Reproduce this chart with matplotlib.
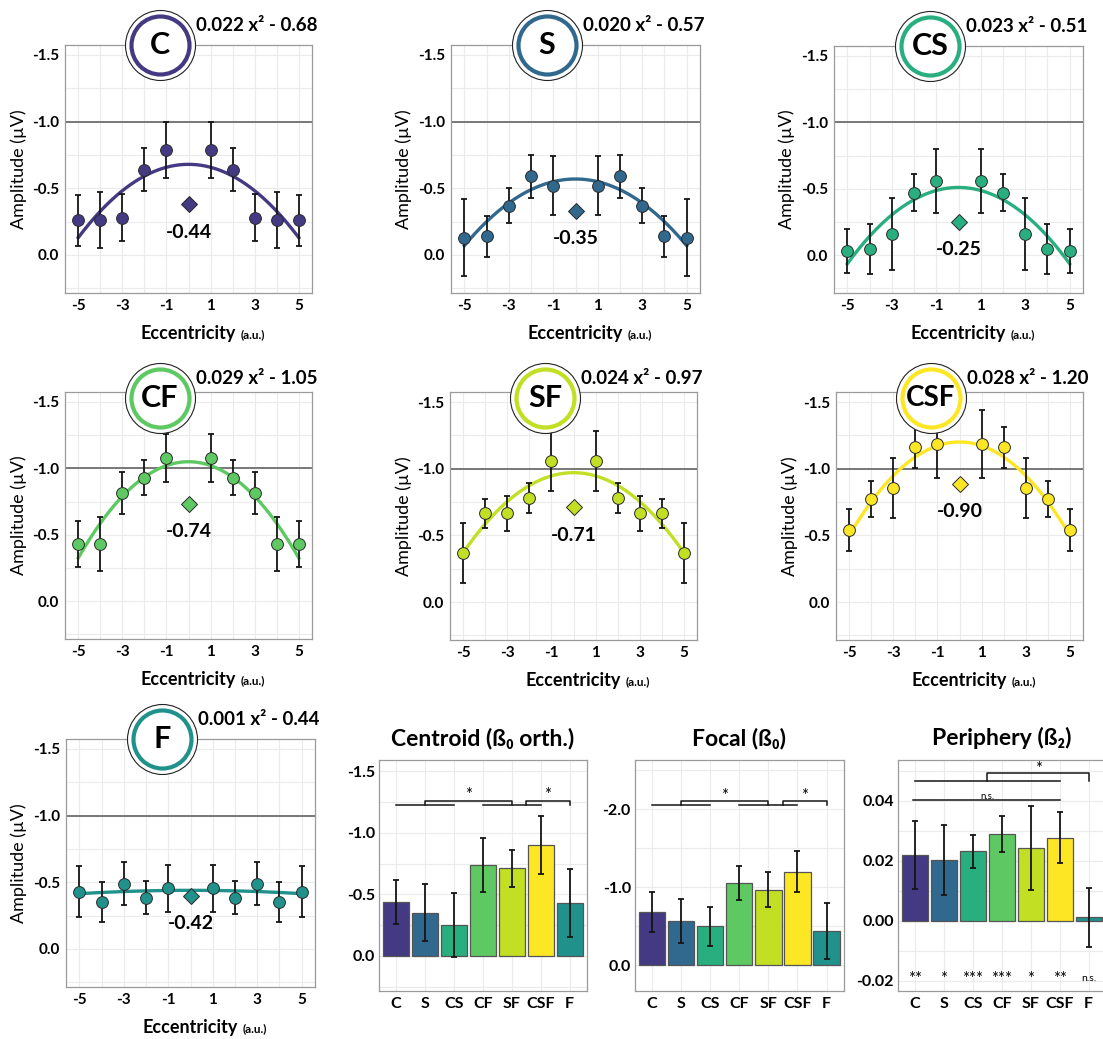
import numpy as np
import matplotlib
matplotlib.use('Agg')
import matplotlib.pyplot as plt
from matplotlib.ticker import FormatStrFormatter

plt.rcParams['font.family'] = ['Lato', 'DejaVu Sans']
plt.rcParams['font.weight'] = 'bold'
plt.rcParams['axes.unicode_minus'] = False

# ---- data ----
conds = ['C', 'S', 'CS', 'CF', 'SF', 'CSF', 'F']
colors = ['#443983', '#31688E', '#29AF7F', '#5EC962', '#C2DF23', '#FDE725', '#21918C']
ecc = [-5, -4, -3, -2, -1, 1, 2, 3, 4, 5]

amp_C = [-0.26, -0.26, -0.28, -0.64, -0.79, -0.79, -0.64, -0.28, -0.26, -0.26]
se_C = [0.19, 0.21, 0.175, 0.16, 0.21, 0.21, 0.16, 0.175, 0.21, 0.19]
amp_S = [-0.13, -0.14, -0.37, -0.59, -0.52, -0.52, -0.59, -0.37, -0.14, -0.13]
se_S = [0.29, 0.155, 0.13, 0.16, 0.22, 0.22, 0.16, 0.13, 0.155, 0.29]
amp_CS = [-0.03, -0.045, -0.16, -0.47, -0.56, -0.56, -0.47, -0.16, -0.045, -0.03]
se_CS = [0.165, 0.19, 0.27, 0.14, 0.24, 0.24, 0.14, 0.27, 0.19, 0.165]
amp_CF = [-0.43, -0.43, -0.815, -0.93, -1.075, -1.075, -0.93, -0.815, -0.43, -0.43]
se_CF = [0.175, 0.20, 0.16, 0.13, 0.18, 0.18, 0.13, 0.16, 0.20, 0.175]
amp_SF = [-0.37, -0.665, -0.665, -0.78, -1.06, -1.06, -0.78, -0.665, -0.665, -0.37]
se_SF = [0.225, 0.11, 0.13, 0.115, 0.225, 0.225, 0.115, 0.13, 0.11, 0.225]
amp_CSF = [-0.54, -0.77, -0.855, -1.16, -1.185, -1.185, -1.16, -0.855, -0.77, -0.54]
se_CSF = [0.16, 0.135, 0.225, 0.155, 0.255, 0.255, 0.155, 0.225, 0.135, 0.16]
amp_F = [-0.43, -0.35, -0.49, -0.385, -0.455, -0.455, -0.385, -0.49, -0.35, -0.43]
se_F = [0.19, 0.15, 0.16, 0.125, 0.175, 0.175, 0.125, 0.16, 0.15, 0.19]

centre_pt = [-0.38, -0.33, -0.25, -0.73, -0.71, -0.885, -0.40]
centre_lab = ['-0.44', '-0.35', '-0.25', '-0.74', '-0.71', '-0.90', '-0.42']
fit_a = [0.022, 0.020, 0.023, 0.029, 0.024, 0.028, 0.001]
fit_b = [-0.68, -0.57, -0.51, -1.05, -0.97, -1.20, -0.44]

centroid = [-0.44, -0.35, -0.25, -0.74, -0.71, -0.90, -0.43]
centroid_se = [0.18, 0.23, 0.26, 0.22, 0.15, 0.235, 0.275]
focal = [-0.68, -0.57, -0.50, -1.05, -0.97, -1.20, -0.44]
focal_se = [0.255, 0.28, 0.25, 0.22, 0.22, 0.26, 0.36]
periph = [0.0218, 0.0201, 0.0231, 0.0288, 0.0241, 0.0277, 0.0011]
periph_se = [0.0114, 0.0117, 0.0055, 0.0059, 0.014, 0.0084, 0.0099]
periph_sig = ['**', '*', '***', '***', '*', '**', 'n.s.']

amps = [amp_C, amp_S, amp_CS, amp_CF, amp_SF, amp_CSF, amp_F]
ses = [se_C, se_S, se_CS, se_CF, se_SF, se_CSF, se_F]

W, H = 1103, 1039
fig = plt.figure(figsize=(W / 100, H / 100), dpi=100)


def add_ax(l, t, r, b):
    return fig.add_axes([l / W, 1 - b / H, (r - l) / W, (b - t) / H])


def style(ax):
    ax.grid(which='both', color='#ebebeb', lw=0.8)
    ax.set_axisbelow(True)
    for s in ax.spines.values():
        s.set_color('#9a9a9a')
        s.set_linewidth(0.9)
    ax.tick_params(which='both', length=0, pad=4, labelsize=11)


boxes = [(65, 45, 312, 293), (451, 45, 700, 293), (834, 46, 1083, 293),
         (65, 392, 312, 639), (450, 392, 697, 640), (836, 392, 1083, 640),
         (66, 739, 315, 987)]
badge_y = [1.0, 1.0, 1.0, 0.975, 0.975, 0.975, 1.0]

for i, name in enumerate(conds):
    ax = add_ax(*boxes[i])
    col = colors[i]
    style(ax)
    ax.axhline(-1.0, color='#6e6e6e', lw=1.3, zorder=1)
    xs = np.linspace(-5, 5, 200)
    ax.plot(xs, fit_a[i] * xs ** 2 + fit_b[i], color=col, lw=2.4, zorder=2)
    ax.errorbar(ecc, amps[i], yerr=ses[i], fmt='none', ecolor='#151515',
                elinewidth=1.3, capsize=2.5, capthick=1.3, zorder=3)
    ax.plot(ecc, amps[i], 'o', ms=8.5, mfc=col, mec='#2a2a2a', mew=0.7, zorder=4)
    ax.plot([0], [centre_pt[i]], 'D', ms=8.5, mfc=col, mec='#2a2a2a', mew=0.7, zorder=4)
    ax.annotate(centre_lab[i], (0, centre_pt[i]), xytext=(0, -20),
                textcoords='offset points', ha='center', va='center', fontsize=14)
    ax.set_xlim(-5.6, 5.6)
    ax.set_ylim(0.285, -1.575)
    ax.set_xticks([-5, -3, -1, 1, 3, 5])
    ax.set_xticks([-4, -2, 0, 2, 4], minor=True)
    ax.set_yticks([-1.5, -1.0, -0.5, 0.0])
    ax.set_yticks([-1.25, -0.75, -0.25, 0.25], minor=True)
    ax.yaxis.set_major_formatter(FormatStrFormatter('%.1f'))
    ax.set_ylabel('Amplitude (µV)', fontsize=13)
    ax.yaxis.set_label_coords(-0.155, 0.5)
    t = ax.text(0.5, -0.165, 'Eccentricity', transform=ax.transAxes,
                ha='center', va='center', fontsize=13)
    ax.annotate('(a.u.)', xy=(1, 0), xycoords=t, xytext=(3, 1.5),
                textcoords='offset points', ha='left', va='bottom', fontsize=8.5)
    # badge
    bx, by = 0.385, badge_y[i]
    ax.scatter([bx], [by], s=2540, c='white', edgecolors='#222222', linewidths=0.8,
               transform=ax.transAxes, clip_on=False, zorder=10)
    ax.scatter([bx], [by], s=1745, c='white', edgecolors=col, linewidths=3.0,
               transform=ax.transAxes, clip_on=False, zorder=11)
    ax.text(bx, by, name, transform=ax.transAxes, ha='center', va='center',
            fontsize=22 if len(name) < 3 else 20, zorder=12)
    ax.text(0.53, by + 0.078, f'{fit_a[i]:.3f} x² - {abs(fit_b[i]):.2f}',
            transform=ax.transAxes, ha='left', va='center', fontsize=13.5)


def bracket(ax, x0, x1, ylo, yhi):
    ax.plot([x0, x0, x1, x1], [ylo, yhi, yhi, ylo], color='#151515', lw=1.1,
            clip_on=False, zorder=5)


def hline(ax, x0, x1, y):
    ax.plot([x0, x1], [y, y], color='#151515', lw=1.1, clip_on=False, zorder=5)


bar_boxes = [(379, 760, 587, 991), (635, 760, 844, 991), (898, 760, 1106, 991)]
titles = ['Centroid (ß₀ orth.)', 'Focal (ß₀)', 'Periphery (ß₂)']
bar_vals = [centroid, focal, periph]
bar_ses = [centroid_se, focal_se, periph_se]
ylims = [(0.284, -1.59), (0.328, -2.627), (-0.0234, 0.0535)]
majors = [[-1.5, -1.0, -0.5, 0.0], [-2.0, -1.0, 0.0], [0.04, 0.02, 0.0, -0.02]]
minors = [[-1.25, -0.75, -0.25, 0.25], [-2.5, -1.5, -0.5], [0.05, 0.03, 0.01, -0.01]]
fmts = ['%.1f', '%.1f', '%.2f']

xb = np.arange(1, 8)
for j in range(3):
    ax = add_ax(*bar_boxes[j])
    style(ax)
    ax.bar(xb, bar_vals[j], width=0.9, color=colors, edgecolor='#555555', lw=0.9, zorder=2)
    ax.errorbar(xb, bar_vals[j], yerr=bar_ses[j], fmt='none', ecolor='#151515',
                elinewidth=1.3, capsize=2.5, capthick=1.3, zorder=3)
    ax.set_xlim(0.41, 7.6)
    ax.set_ylim(*ylims[j])
    ax.set_xticks(xb)
    ax.set_xticklabels(conds, fontsize=11.5)
    ax.set_yticks(majors[j])
    ax.set_yticks(minors[j], minor=True)
    ax.yaxis.set_major_formatter(FormatStrFormatter(fmts[j]))
    ax.tick_params(axis='y', pad=3, labelsize=11.5)
    ax.text(0.5, 1.095, titles[j], transform=ax.transAxes, ha='center', va='center',
            fontsize=16.5)

    if j < 2:
        y1, y2, ys = (-1.224, -1.26, -1.31) if j == 0 else (-2.05, -2.107, -2.17)
        hline(ax, 1, 3, y1)
        hline(ax, 4, 6, y1)
        bracket(ax, 2, 5, y1, y2)
        bracket(ax, 5.5, 7, y1, y2)
        ax.text(3.5, ys, '*', ha='center', va='center', fontsize=12, fontweight='normal')
        ax.text(6.25, ys, '*', ha='center', va='center', fontsize=12, fontweight='normal')
    else:
        hline(ax, 1, 6, 0.0466)
        bracket(ax, 3.5, 7, 0.0466, 0.0491)
        ax.text(5.25, 0.0506, '*', ha='center', va='center', fontsize=12, fontweight='normal')
        hline(ax, 0.93, 6.02, 0.0401)
        ax.text(3.5, 0.0414, 'n.s.', ha='center', va='center', fontsize=7, fontweight='normal')
        for k, s in enumerate(periph_sig):
            ax.text(xb[k], -0.0193, s, ha='center', va='center',
                    fontsize=7.5 if s == 'n.s.' else 12, fontweight='normal')

fig.savefig('out.png', dpi=100)
